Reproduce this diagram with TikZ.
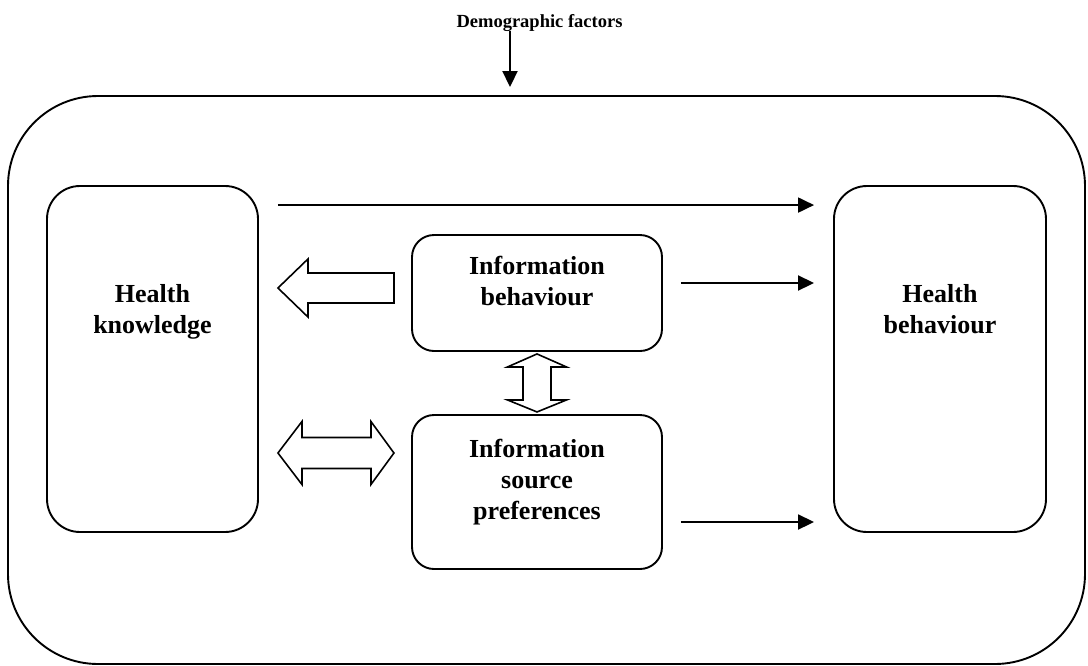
\documentclass[tikz,border=0pt]{standalone}
\usepackage{fontspec}
\setmainfont{Liberation Serif}
\usetikzlibrary{calc,arrows.meta,positioning}

\begin{document}
\begin{tikzpicture}[x=1pt, y=-1pt,
  box/.style = {draw, line width=1.9pt, rounded corners=#1, inner sep=0pt}, box/.default=22pt,
  boxtext/.style = {font=\fontsize{26}{31}\selectfont\bfseries, align=center, inner sep=0pt},
  arr/.style = {line width=1.9pt, -{Triangle[length=16pt, width=15pt]}},
  hollow/.style = {draw, line width=1.6pt, fill=white, line join=miter}]
\useasboundingbox (0,0) rectangle (1088,665);
\pgfmathsetmacro{\gap}{19} % space between box and arrow

% boxes
\node[box=90pt, minimum width=1077pt, minimum height=568pt] (outer) at (546.5,380) {};
\node[box=33pt, minimum width=211pt, minimum height=346pt] (hk) at (152.5,359) {};
\node[box=33pt, minimum width=212pt, minimum height=346pt] (hb) at (940,359) {};
\node[box, minimum width=250pt, minimum height=116pt] (ib) at (537,293) {};
\node[box, minimum width=250pt, minimum height=154pt] (isp) at (537,492) {};

\node[boxtext, below=99pt of hk.north] (hktext) {Health\\knowledge};
\node[boxtext, below=99pt of hb.north] (hbtext) {Health\\behaviour};
\node[boxtext, below=22pt of ib.north] (ibtext) {Information\\behaviour};
\node[boxtext, below=25pt of isp.north] (isptext) {Information\\source\\preferences};

\node[font=\fontsize{18.5}{22}\selectfont\bfseries, anchor=base, inner sep=0pt] (demo) at (539.5,27) {Demographic factors};
\draw[arr, shorten >=8pt] ([xshift=-29.5pt]demo.south) -- ([xshift=-29.5pt]demo.south |- outer.north);

% arrows to health behaviour
\draw[arr, shorten <=\gap pt, shorten >=\gap pt] ([yshift=-20pt]hk.north east) -- ([yshift=-20pt]hb.north west);
\draw[arr, shorten <=18pt, shorten >=\gap pt] ([yshift=10pt]ib.east) -- ([yshift=10pt]ib.east -| hb.west);
\draw[arr, shorten <=18pt, shorten >=\gap pt] ([yshift=-30pt]isp.east) -- ([yshift=-30pt]isp.east -| hb.west);

% block arrows
\draw[hollow] ($(hk.east |- ib.west)+(\gap,-5)$) -- ++(30,-29) -- ++(0,14) -- ++(86,0) -- ++(0,30) -- ++(-86,0) -- ++(0,14) -- cycle;
\draw[hollow] ($(ib.south)+(0,2)$) -- ++(29.5,13) -- ++(-15.5,0) -- ++(0,33) -- ++(15.5,0) -- ++(-29.5,12)
  -- ++(-29.5,-12) -- ++(15.5,0) -- ++(0,-33) -- ++(-15.5,0) -- cycle;
\draw[hollow] ($(hk.east |- isp.west)+(\gap,-39)$) -- ++(24,-31.5) -- ++(0,16) -- ++(69,0) -- ++(0,-16) -- ++(23,31.5)
  -- ++(-23,31.5) -- ++(0,-16) -- ++(-69,0) -- ++(0,16) -- cycle;
\end{tikzpicture}
\end{document}
